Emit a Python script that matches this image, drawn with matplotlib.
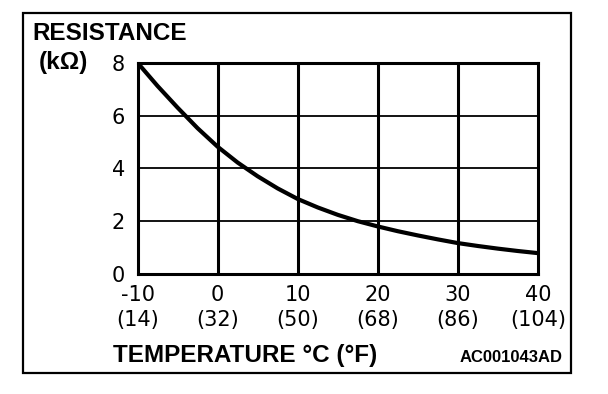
import matplotlib
matplotlib.use("Agg")
from matplotlib import pyplot as plt
from matplotlib.patches import Rectangle

# 数据 (读图估计, 每 2.5°C 一点)
temp_c = [-10, -7.5, -5, -2.5, 0, 2.5, 5, 7.5, 10, 12.5, 15,
          17.5, 20, 22.5, 25, 27.5, 30, 32.5, 35, 37.5, 40]
resistance = [8.0, 7.12, 6.3, 5.52, 4.82, 4.22, 3.7, 3.24, 2.84, 2.52, 2.24,
              2.0, 1.8, 1.62, 1.46, 1.31, 1.17, 1.06, 0.96, 0.87, 0.79]
x_ticks = [-10, 0, 10, 20, 30, 40]
x_labels = ["-10\n(14)", "0\n(32)", "10\n(50)", "20\n(68)", "30\n(86)", "40\n(104)"]
y_ticks = [0, 2, 4, 6, 8]

W, H = 608, 394
plt.rcParams['font.family'] = ['Liberation Sans', 'DejaVu Sans']

fig = plt.figure(figsize=(W / 100, H / 100), dpi=100)

# 外框
fig.patches.append(Rectangle((23 / W, 1 - 373 / H), 548 / W, 360 / H,
                             transform=fig.transFigure, fill=False,
                             edgecolor="black", linewidth=1.6))

ax = fig.add_axes([137.5 / W, 1 - 274 / H, 400.5 / W, 211.3 / H])
ax.plot(temp_c, resistance, color="black", linewidth=3.0,
        solid_joinstyle="round", solid_capstyle="butt")
ax.set_xlim(-10, 40)
ax.set_ylim(0, 8)

for x in x_ticks[1:-1]:
    ax.axvline(x, color="black", linewidth=2.2)
for y in y_ticks[1:-1]:
    ax.axhline(y, color="black", linewidth=1.3)
for s in ax.spines.values():
    s.set_linewidth(2.2)

ax.set_xticks(x_ticks)
ax.set_xticklabels(x_labels, fontsize=15, linespacing=1.3, family="DejaVu Sans")
ax.set_yticks(y_ticks)
ax.set_yticklabels([str(v) for v in y_ticks], fontsize=15, family="DejaVu Sans")
ax.tick_params(length=0, pad=8)
ax.tick_params(axis="y", pad=9)

fig.text(32 / W, 1 - 40 / H, "RESISTANCE", fontsize=17.5, fontweight="bold")
fig.text(39 / W, 1 - 69 / H, "(kΩ)", fontsize=17.5, fontweight="bold")
fig.text(113 / W, 1 - 362 / H, "TEMPERATURE °C (°F)", fontsize=17.5, fontweight="bold")
fig.text(563 / W, 1 - 362 / H, "AC001043AD", fontsize=12, fontweight="bold", ha="right")

plt.savefig("out.png", dpi=100)
